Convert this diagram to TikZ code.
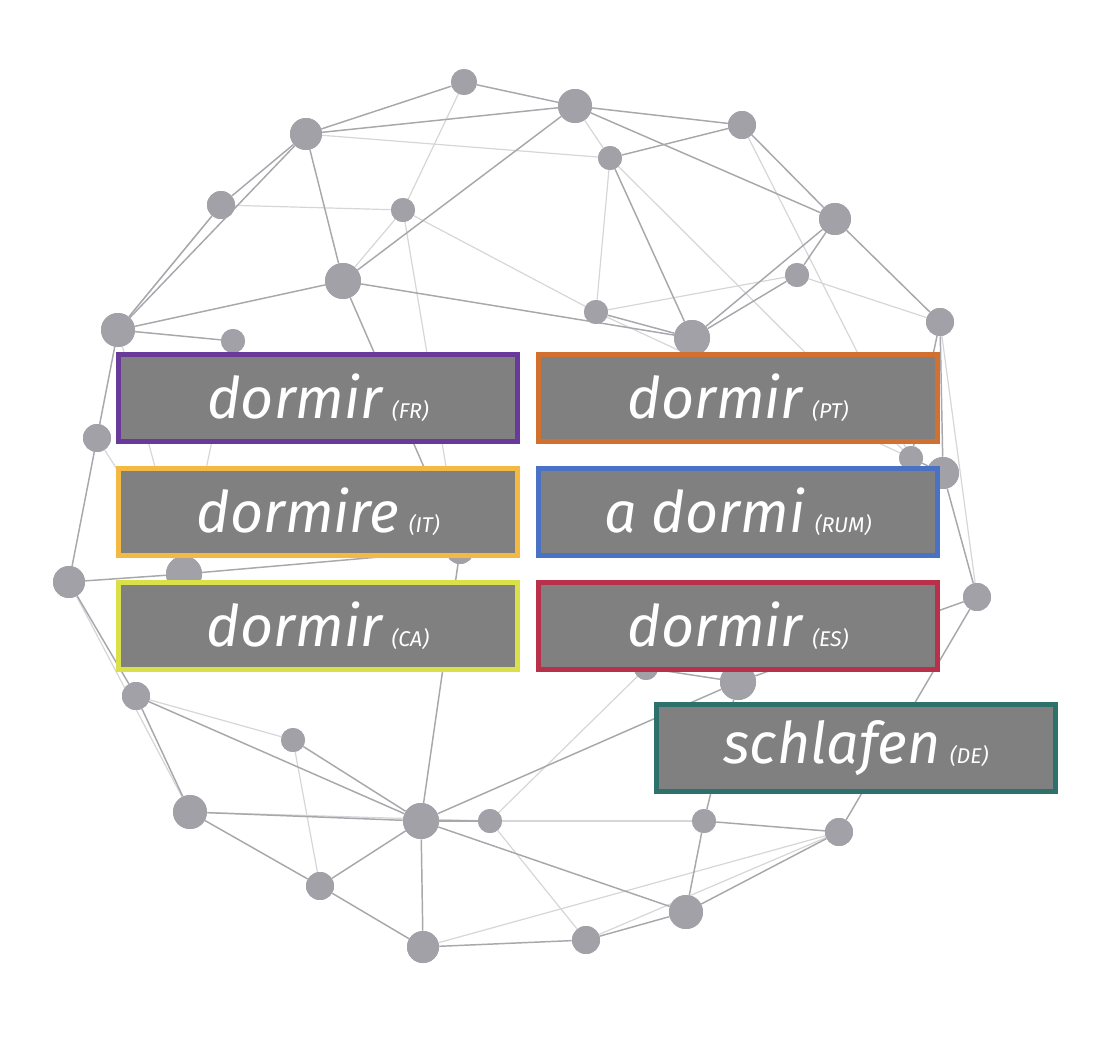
\documentclass[tikz,border=0pt]{standalone}
\usepackage{fontspec}
\setmainfont{Fira Sans}
\begin{document}
\begin{tikzpicture}[x=0.75pt,y=-0.75pt,
  dot/.style={circle,fill=dotc,inner sep=0pt,minimum size=#1},
  dk/.style={draw=edgec,line width=1.1pt},
  lt/.style={draw=ltc,line width=0.9pt},
  lbox/.style={draw=#1,line width=3.75pt,fill=boxg,text=white,minimum width=299pt,minimum height=65pt,inner sep=0pt,font=\fontsize{43}{45}\selectfont\itshape}]
\definecolor{dotc}{HTML}{A2A1A8}
\definecolor{edgec}{HTML}{A8A8AC}
\definecolor{ltc}{HTML}{D6D6D8}
\definecolor{boxg}{HTML}{808080}
\definecolor{cfr}{HTML}{6A3A9A}
\definecolor{cpt}{HTML}{D2702F}
\definecolor{cit}{HTML}{F4B942}
\definecolor{crum}{HTML}{4A72C4}
\definecolor{cca}{HTML}{D9E04A}
\definecolor{ces}{HTML}{B8304A}
\definecolor{cde}{HTML}{2E706A}
\useasboundingbox (0,0) rectangle (1104,1054);
\foreach \n/\x/\y/\r in {A/464/82/26,B/575/106/34,C/306/134/32,D/742/125/28,E/610/158/24,F/221/205/28,G/403/210/24,H/835/219/32,I/797/275/24,J/343/281/36,K/596/312/24,L/118/330/34,M/692/338/36,N/940/322/28,O/233/341/24,P/97/438/28,Q/911/458/24,R/943/473/32,S/69/582/32,T/184/574/36,U/460/550/28,V/977/597/28,W/646/668/24,X/738/682/36,Y/136/696/28,Z/293/740/24,AA/190/812/34,AB/421/821/36,AC/490/821/24,AD/704/821/24,AE/839/832/28,AF/320/886/28,AG/686/912/34,AH/423/947/32,AI/586/940/28}
  \node[dot=\r*0.75pt] (\n) at (\x,\y) {};
\foreach \a/\b in {A/G,B/E,F/G,G/K,E/K,I/K,I/N,Y/Z,AC/AI,AC/AD,W/AC,G/U,O/T,P/T,K/Q,E/Q,D/Q,Z/AF,AA/AC,AH/AE,AI/AE,L/F,C/E,J/G,N/V,L/T,S/AA}
  \path[lt] (\a) -- (\b);
\foreach \a/\b in {A/C,A/B,C/B,B/D,B/H,C/F,C/J,C/L,F/L,J/B,J/L,J/M,K/M,E/M,E/D,H/M,H/N,D/H,N/R,N/Q,L/P,L/O,P/S,S/Y,S/T,T/U,Y/AA,Z/AB,AA/AB,AA/AF,AF/AB,AF/AH,AH/AB,AH/AI,AI/AG,AG/AB,AG/AD,AD/X,AD/AE,AE/V,AG/AE,X/AB,X/W,V/R,V/X,AC/AB,U/AB,H/I,I/M,R/Q,Y/AB,J/U}
  \path[dk] (\a) -- (\b);
\foreach \n/\x/\y/\r in {A/464/82/26,B/575/106/34,C/306/134/32,D/742/125/28,E/610/158/24,F/221/205/28,G/403/210/24,H/835/219/32,I/797/275/24,J/343/281/36,K/596/312/24,L/118/330/34,M/692/338/36,N/940/322/28,O/233/341/24,P/97/438/28,Q/911/458/24,R/943/473/32,S/69/582/32,T/184/574/36,U/460/550/28,V/977/597/28,W/646/668/24,X/738/682/36,Y/136/696/28,Z/293/740/24,AA/190/812/34,AB/421/821/36,AC/490/821/24,AD/704/821/24,AE/839/832/28,AF/320/886/28,AG/686/912/34,AH/423/947/32,AI/586/940/28}
  \fill[dotc] (\x,\y) circle (\r*0.375pt);
\newcommand\sfx[1]{\,{\fontsize{16}{17}\selectfont(#1)}}
\node[lbox=cfr] (fr) at (318,398) {dormir\sfx{FR}};
\node[lbox=cpt] (pt) at (738,398) {dormir\sfx{PT}};
\node[lbox=cit] (it) at (318,512) {dormire\sfx{IT}};
\node[lbox=crum] (rum) at (738,512) {a dormi\sfx{RUM}};
\node[lbox=cca] (ca) at (318,626) {dormir\sfx{CA}};
\node[lbox=ces] (es) at (738,626) {dormir\sfx{ES}};
\node[lbox=cde] (de) at (856,748) {schlafen\sfx{DE}};
\end{tikzpicture}
\end{document}
